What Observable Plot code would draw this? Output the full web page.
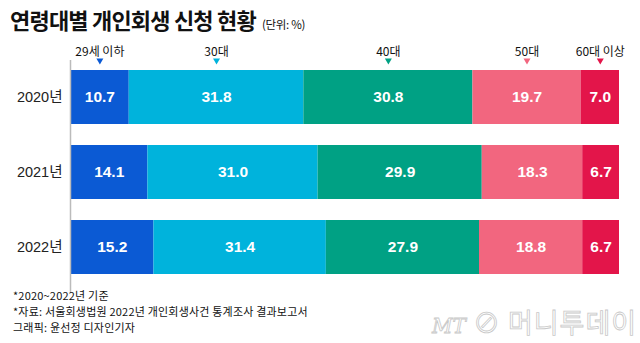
<!DOCTYPE html>
<html><head><meta charset="utf-8">
<script src="https://cdn.jsdelivr.net/npm/d3@7"></script>
<script src="https://cdn.jsdelivr.net/npm/@observablehq/plot@0.6"></script>
<style>
body{margin:0;background:#fff;width:640px;height:343px;overflow:hidden;position:relative;font-family:"Noto Sans CJK KR",sans-serif;color:#111;}
#title{height:36px;box-sizing:border-box;padding:3px 0 0 10px;white-space:nowrap;}
#title .main{font-size:22px;font-weight:700;letter-spacing:-0.8px;}
#title .unit{font-size:11.5px;margin-left:6px;letter-spacing:-0.3px;}
#chart svg{display:block;overflow:visible;}
#cap{position:absolute;left:13px;top:287px;font-size:11px;line-height:16px;letter-spacing:0.2px;color:#111;}
#wm{position:absolute;left:432px;top:302px;font-size:27px;color:#fff;-webkit-text-stroke:0.8px #c8c8c8;letter-spacing:1px;white-space:nowrap;}
#wm i{font-family:"DejaVu Serif",serif;font-size:20px;letter-spacing:0;}
</style></head><body>
<div id="title"><span class="main">연령대별 개인회생 신청 현황</span><span class="unit">(단위: %)</span></div>
<div id="chart"></div>
<div id="cap">*2020~2022년 기준<br>*자료: 서울회생법원 2022년 개인회생사건 통계조사 결과보고서<br>그래픽: 윤선정 디자인기자</div>
<div id="wm"><i>MT</i> ⊘ 머니투데이</div>
<script>
const years = ["2020년", "2021년", "2022년"];
const groups = ["29세 이하", "30대", "40대", "50대", "60대 이상"];
const v29 = [10.7, 14.1, 15.2];
const v30 = [31.8, 31.0, 31.4];
const v40 = [30.8, 29.9, 27.9];
const v50 = [19.7, 18.3, 18.8];
const v60 = [7.0, 6.7, 6.7];
const colors = ["#0b5ad4", "#00b3dc", "#00a184", "#f2667f", "#e3154a"];

const series = [v29, v30, v40, v50, v60];
const rows = years.flatMap((y, i) => groups.map((g, j) => ({year: y, group: g, value: series[j][i]})));
const first = rows.filter(d => d.year === years[0]);

const plot = Plot.plot({
  width: 640,
  height: 257,
  marginLeft: 70,
  marginRight: 21,
  marginTop: 25.5,
  marginBottom: 11.5,
  style: {fontFamily: "'Liberation Sans','Noto Sans CJK KR',sans-serif", color: "#222"},
  x: {domain: [0, 100], axis: null},
  y: {domain: years, paddingInner: 0.285, paddingOuter: 0.1, label: null},
  color: {domain: groups, range: colors},
  marks: [
    Plot.barX(rows, Plot.stackX({x: "value", y: "year", fill: "group"})),
    Plot.text(rows, Plot.stackX({x: "value", y: "year", text: d => d.value.toFixed(1), fill: "white", fontSize: 15.5, fontWeight: "bold"})),
    Plot.ruleX([0], {stroke: "#bbb", strokeWidth: 1.5, insetTop: -1.5, insetBottom: -11.5}),
    Plot.axisY({tickSize: 0, tickPadding: 8, fontSize: 14.5, fontFamily: "'Liberation Sans','Noto Sans CJK KR',sans-serif"}),
    Plot.text(first, Plot.stackX({x: "value", text: "group", frameAnchor: "top", dy: -14.5, fontSize: 12, fill: "#111", fontFamily: "'Noto Sans CJK KR',sans-serif"})),
    Plot.dot(first, Plot.stackX({x: "value", fill: "group", symbol: "triangle", rotate: 180, r: 2.6, frameAnchor: "top", dy: -1.5}))
  ]
});
document.getElementById("chart").append(plot);
</script>
</body></html>
